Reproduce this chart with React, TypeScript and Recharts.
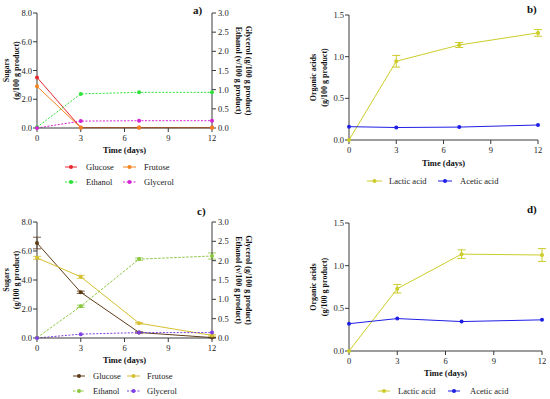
import React from 'react';
import { LineChart, Line, XAxis, YAxis, ErrorBar, Label } from 'recharts';

// ---------- data ----------
const days = [0, 3, 7, 12];
const xTicks = [0, 3, 6, 9, 12];
const sugarTicks = [0, 2, 4, 6, 8];
const rightTicks = [0, 0.5, 1, 1.5, 2, 2.5, 3];
const acidTicks = [0, 0.5, 1, 1.5];

// panel a
const aGlucose = [3.52, 0.03, 0.03, 0.03];
const aFrutose = [2.9, 0.02, 0.02, 0.02];
const aEthanol = [0.02, 0.89, 0.93, 0.93];
const aGlycerol = [0.0, 0.18, 0.19, 0.19];

// panel b
const bLactic = [0.0, 0.945, 1.14, 1.285];
const bLacticErr = [0.0, 0.07, 0.03, 0.04];
const bAcetic = [0.16, 0.15, 0.155, 0.18];

// panel c
const cGlucose = [6.55, 3.15, 0.38, 0.03];
const cGlucoseErr = [0.4, 0.08, 0.05, 0.02];
const cFrutose = [5.53, 4.22, 1.02, 0.18];
const cFrutoseErr = [0.1, 0.1, 0.05, 0.05];
const cEthanol = [0.01, 0.82, 2.04, 2.12];
const cEthanolErr = [0.0, 0.03, 0.03, 0.08];
const cGlycerol = [0.0, 0.1, 0.14, 0.14];

// panel d
const dLactic = [0.0, 0.73, 1.135, 1.125];
const dLacticErr = [0.0, 0.05, 0.05, 0.075];
const dAcetic = [0.32, 0.38, 0.345, 0.365];

const dataA = days.map((d, i) => ({ day: d, glu: aGlucose[i], fru: aFrutose[i], eth: aEthanol[i], gly: aGlycerol[i] }));
const dataB = days.map((d, i) => ({ day: d, lac: bLactic[i], lacErr: bLacticErr[i], ace: bAcetic[i] }));
const dataC = days.map((d, i) => ({
  day: d, glu: cGlucose[i], gluErr: cGlucoseErr[i], fru: cFrutose[i], fruErr: cFrutoseErr[i],
  eth: cEthanol[i], ethErr: cEthanolErr[i], gly: cGlycerol[i],
}));
const dataD = days.map((d, i) => ({ day: d, lac: dLactic[i], lacErr: dLacticErr[i], ace: dAcetic[i] }));

// ---------- styles ----------
const FONT = '"Liberation Serif", "Times New Roman", serif';
const AXIS = '#3a3a3a';
const TICK = { fontSize: 8.5, fill: '#222', fontFamily: FONT };

const C = {
  aGlu: '#e8262d', aFru: '#f5841f', aEth: '#2fe23a', aGly: '#d222d2',
  cGlu: '#5e3c18', cFru: '#d6bf30', cEth: '#8cc63f', cGly: '#7b3fe4',
  lac: '#cccc2a', ace: '#1e1ee6',
};

const fmt = (v: number) => v.toFixed(1);

const xTitle = (dy: number) => (props: any) => {
  const vb = props.viewBox || { x: 0, y: 0, width: 0 };
  return (
    <text x={vb.x + vb.width / 2} y={vb.y + dy} textAnchor="middle" dominantBaseline="central"
      style={{ fontFamily: FONT, fontSize: 8.5, fontWeight: 'bold', fill: '#111' }}>Time (days)</text>
  );
};

const yTitle = (lines: string[], x: number, gap: number, angle: number) => (props: any) => {
  const vb = props.viewBox || { y: 0, height: 0 };
  const cy = vb.y + vb.height / 2;
  return (
    <text x={x} y={cy} textAnchor="middle" dominantBaseline="central" transform={`rotate(${angle}, ${x}, ${cy})`}
      style={{ fontFamily: FONT, fontSize: 8, fontWeight: 'bold', fill: '#111' }}>
      <tspan x={x} dy={0}>{lines[0]}</tspan>
      <tspan x={x} dy={gap}>{lines[1]}</tspan>
    </text>
  );
};

const dot = (color: string) => ({ r: 2, fill: color, stroke: color, strokeWidth: 0 });

// ---------- legend ----------
type LegItem = { x1: number; x2: number; tx: number; y: number; label: string; color: string; dash?: string };
const legendItems: LegItem[] = [
  { x1: 65, x2: 77, tx: 86, y: 167, label: 'Glucose', color: C.aGlu },
  { x1: 123, x2: 136, tx: 144, y: 167, label: 'Frutose', color: C.aFru },
  { x1: 65, x2: 77, tx: 86, y: 182, label: 'Ethanol', color: C.aEth, dash: '2 1.5' },
  { x1: 123, x2: 136, tx: 144, y: 182, label: 'Glycerol', color: C.aGly, dash: '2 1.5' },
  { x1: 367, x2: 382, tx: 389, y: 181, label: 'Lactic acid', color: C.lac },
  { x1: 438, x2: 452, tx: 460, y: 181, label: 'Acetic acid', color: C.ace },
  { x1: 73, x2: 85, tx: 93, y: 376, label: 'Glucose', color: C.cGlu },
  { x1: 127, x2: 140, tx: 147, y: 376, label: 'Frutose', color: C.cFru },
  { x1: 73, x2: 85, tx: 93, y: 391, label: 'Ethanol', color: C.cEth, dash: '2.5 1.5' },
  { x1: 127, x2: 140, tx: 147, y: 391, label: 'Glycerol', color: C.cGly, dash: '2 1.5' },
  { x1: 378, x2: 390, tx: 398, y: 391, label: 'Lactic acid', color: C.lac },
  { x1: 448, x2: 460, tx: 470, y: 391, label: 'Acetic acid', color: C.ace },
];

const letters = [
  { x: 193, y: 10, t: 'a)' },
  { x: 527, y: 9, t: 'b)' },
  { x: 197, y: 211, t: 'c)' },
  { x: 527, y: 209, t: 'd)' },
];

const box = (left: number, top: number): React.CSSProperties => ({ position: 'absolute', left, top });

export default function App() {
  return (
    <div style={{ position: 'absolute', left: 0, top: 0, width: 550, height: 399, background: '#fff', overflow: 'hidden' }}>
      {/* panel a */}
      <div style={box(0, 0)}>
        <LineChart width={275} height={200} data={dataA} margin={{ top: 13, right: 0, left: 0, bottom: 42 }}>
          <XAxis type="number" dataKey="day" domain={[0, 12]} ticks={xTicks} stroke={AXIS} tickSize={4} tickMargin={3} tick={TICK} height={30}>
            <Label content={xTitle(22)} />
          </XAxis>
          <YAxis yAxisId="l" domain={[0, 8]} ticks={sugarTicks} tickFormatter={fmt} stroke={AXIS} tickSize={4} tickMargin={1} tick={TICK} width={37}>
            <Label content={yTitle(['Sugars', '(g/100 g product)'], 6, 9.5, -90)} />
          </YAxis>
          <YAxis yAxisId="r" orientation="right" domain={[0, 3]} ticks={rightTicks} tickFormatter={fmt} stroke={AXIS} tickSize={4} tickMargin={2} tick={TICK} width={63}>
            <Label content={yTitle(['Glycerol (g/100 g product)', 'Ethanol (v/100 g product)'], 249, 10.5, 90)} />
          </YAxis>
          <Line yAxisId="l" dataKey="glu" stroke={C.aGlu} strokeWidth={1} dot={dot(C.aGlu)} isAnimationActive={false} />
          <Line yAxisId="l" dataKey="fru" stroke={C.aFru} strokeWidth={1} dot={dot(C.aFru)} isAnimationActive={false} />
          <Line yAxisId="r" dataKey="eth" stroke={C.aEth} strokeWidth={1} strokeDasharray="2 1.5" dot={dot(C.aEth)} isAnimationActive={false} />
          <Line yAxisId="r" dataKey="gly" stroke={C.aGly} strokeWidth={1} strokeDasharray="2 1.5" dot={dot(C.aGly)} isAnimationActive={false} />
        </LineChart>
      </div>

      {/* panel b */}
      <div style={box(275, 0)}>
        <LineChart width={275} height={200} data={dataB} margin={{ top: 15, right: 12, left: 0, bottom: 30 }}>
          <XAxis type="number" dataKey="day" domain={[0, 12]} ticks={xTicks} stroke={AXIS} tickSize={4} tickMargin={3} tick={TICK} height={30}>
            <Label content={xTitle(23)} />
          </XAxis>
          <YAxis domain={[0, 1.5]} ticks={acidTicks} tickFormatter={fmt} stroke={AXIS} tickSize={4} tickMargin={1} tick={TICK} width={74}>
            <Label content={yTitle(['Organic acids', '(g/100 g product)'], 38, 11, -90)} />
          </YAxis>
          <Line dataKey="lac" stroke={C.lac} strokeWidth={1} dot={dot(C.lac)} isAnimationActive={false}>
            <ErrorBar dataKey="lacErr" width={4} stroke={C.lac} strokeWidth={1} direction="y" />
          </Line>
          <Line dataKey="ace" stroke={C.ace} strokeWidth={1} dot={dot(C.ace)} isAnimationActive={false} />
        </LineChart>
      </div>

      {/* panel c */}
      <div style={box(0, 199)}>
        <LineChart width={275} height={200} data={dataC} margin={{ top: 23, right: 0, left: 0, bottom: 31 }}>
          <XAxis type="number" dataKey="day" domain={[0, 12]} ticks={xTicks} stroke={AXIS} tickSize={4} tickMargin={3} tick={TICK} height={30}>
            <Label content={xTitle(22)} />
          </XAxis>
          <YAxis yAxisId="l" domain={[0, 8]} ticks={sugarTicks} tickFormatter={fmt} stroke={AXIS} tickSize={4} tickMargin={1} tick={TICK} width={37}>
            <Label content={yTitle(['Sugars', '(g/100 g product)'], 6, 9.5, -90)} />
          </YAxis>
          <YAxis yAxisId="r" orientation="right" domain={[0, 3]} ticks={rightTicks} tickFormatter={fmt} stroke={AXIS} tickSize={4} tickMargin={2} tick={TICK} width={63}>
            <Label content={yTitle(['Glycerol (g/100 g product)', 'Ethanol (v/100 g product)'], 249, 10.5, 90)} />
          </YAxis>
          <Line yAxisId="l" dataKey="glu" stroke={C.cGlu} strokeWidth={1} dot={dot(C.cGlu)} isAnimationActive={false}>
            <ErrorBar dataKey="gluErr" width={4} stroke={C.cGlu} strokeWidth={0.8} direction="y" />
          </Line>
          <Line yAxisId="l" dataKey="fru" stroke={C.cFru} strokeWidth={1} dot={dot(C.cFru)} isAnimationActive={false}>
            <ErrorBar dataKey="fruErr" width={4} stroke={C.cFru} strokeWidth={0.8} direction="y" />
          </Line>
          <Line yAxisId="r" dataKey="eth" stroke={C.cEth} strokeWidth={1} strokeDasharray="2.5 1.5" dot={dot(C.cEth)} isAnimationActive={false}>
            <ErrorBar dataKey="ethErr" width={4} stroke={C.cEth} strokeWidth={0.8} direction="y" />
          </Line>
          <Line yAxisId="r" dataKey="gly" stroke={C.cGly} strokeWidth={1} strokeDasharray="2 1.5" dot={dot(C.cGly)} isAnimationActive={false} />
        </LineChart>
      </div>

      {/* panel d */}
      <div style={box(275, 199)}>
        <LineChart width={275} height={200} data={dataD} margin={{ top: 24, right: 8, left: 0, bottom: 18 }}>
          <XAxis type="number" dataKey="day" domain={[0, 12]} ticks={xTicks} stroke={AXIS} tickSize={4} tickMargin={3} tick={TICK} height={30}>
            <Label content={xTitle(22)} />
          </XAxis>
          <YAxis domain={[0, 1.5]} ticks={acidTicks} tickFormatter={fmt} stroke={AXIS} tickSize={4} tickMargin={1} tick={TICK} width={74}>
            <Label content={yTitle(['Organic acids', '(g/100 g product)'], 38, 11, -90)} />
          </YAxis>
          <Line dataKey="lac" stroke={C.lac} strokeWidth={1} dot={dot(C.lac)} isAnimationActive={false}>
            <ErrorBar dataKey="lacErr" width={4} stroke={C.lac} strokeWidth={1} direction="y" />
          </Line>
          <Line dataKey="ace" stroke={C.ace} strokeWidth={1} dot={dot(C.ace)} isAnimationActive={false} />
        </LineChart>
      </div>

      {/* legends and panel letters */}
      <svg width={550} height={399} style={{ position: 'absolute', left: 0, top: 0, pointerEvents: 'none' }}>
        {legendItems.map((it, i) => (
          <g key={i}>
            <line x1={it.x1} x2={it.x2} y1={it.y} y2={it.y} stroke={it.color} strokeWidth={1} strokeDasharray={it.dash} />
            <circle cx={(it.x1 + it.x2) / 2} cy={it.y} r={2} fill={it.color} />
            <text x={it.tx} y={it.y} dominantBaseline="central" style={{ fontFamily: FONT, fontSize: 8.5, fill: '#222' }}>{it.label}</text>
          </g>
        ))}
        {letters.map((l, i) => (
          <text key={i} x={l.x} y={l.y} dominantBaseline="central" style={{ fontFamily: FONT, fontSize: 11, fontWeight: 'bold', fill: '#111' }}>{l.t}</text>
        ))}
      </svg>
    </div>
  );
}
